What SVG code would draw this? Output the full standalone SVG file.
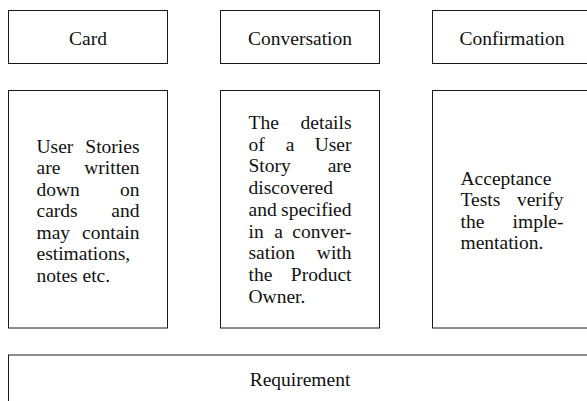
<svg xmlns="http://www.w3.org/2000/svg" width="587" height="401" viewBox="0 0 587 401">
<style>
rect{fill:#fff;stroke:#1a1a1a;stroke-width:1}
.c{text-anchor:middle}
.e{text-anchor:end}
</style>
<rect x="0" y="0" width="587" height="401" style="fill:#fff;stroke:none"/>
<g font-family="Liberation Serif, Times New Roman, serif" font-size="19.5" fill="#111">
<g id="connectors"></g>
<g id="card">
<rect x="8.5" y="10.5" width="159" height="53"/>
<text class="c" x="88" y="44.5">Card</text>
</g>
<g id="conversation">
<rect x="220.5" y="10.5" width="159" height="53"/>
<text class="c" x="300" y="44.5">Conversation</text>
</g>
<g id="confirmation">
<rect x="432.5" y="10.5" width="159" height="53"/>
<text class="c" x="512" y="44.5">Confirmation</text>
</g>
<g id="card-detail">
<rect x="8.5" y="90.5" width="159" height="237.5"/>
<text x="36.5" y="152.5">User</text><text class="e" x="139.5" y="152.5">Stories</text>
<text x="36.5" y="174">are</text><text class="e" x="139.5" y="174">written</text>
<text x="36.5" y="195.5">down</text><text class="e" x="139.5" y="195.5">on</text>
<text x="36.5" y="217">cards</text><text class="e" x="139.5" y="217">and</text>
<text x="36.5" y="238.5">may</text><text class="e" x="139.5" y="238.5">contain</text>
<text x="36.5" y="260">estimations,</text>
<text x="36.5" y="281.5">notes etc.</text>
</g>
<g id="conversation-detail">
<rect x="220.5" y="90.5" width="159" height="237.5"/>
<text x="248.5" y="129">The</text><text class="e" x="351.5" y="129">details</text>
<text x="248.5" y="150.7">of</text><text class="c" x="290" y="150.7">a</text><text class="e" x="351.5" y="150.7">User</text>
<text x="248.5" y="172.4">Story</text><text class="e" x="351.5" y="172.4">are</text>
<text x="248.5" y="194.1">discovered</text>
<text x="248.5" y="215.8">and</text><text class="e" x="351.5" y="215.8">specified</text>
<text x="248.5" y="237.5">in</text><text class="c" x="278.5" y="237.5">a</text><text class="e" x="351.5" y="237.5">conver-</text>
<text x="248.5" y="259.2">sation</text><text class="e" x="351.5" y="259.2">with</text>
<text x="248.5" y="280.9">the</text><text class="e" x="351.5" y="280.9">Product</text>
<text x="248.5" y="302.6">Owner.</text>
</g>
<g id="confirmation-detail">
<rect x="432.5" y="90.5" width="159" height="237.5"/>
<text x="460.5" y="184.75">Acceptance</text>
<text x="460.5" y="206.25">Tests</text><text class="e" x="563.5" y="206.25">verify</text>
<text x="460.5" y="227.75">the</text><text class="e" x="563.5" y="227.75">imple-</text>
<text x="460.5" y="249.25">mentation.</text>
</g>
<g id="requirement">
<rect x="8.5" y="355" width="583" height="53"/>
<text class="c" x="300" y="386">Requirement</text>
</g>
</g>
</svg>
